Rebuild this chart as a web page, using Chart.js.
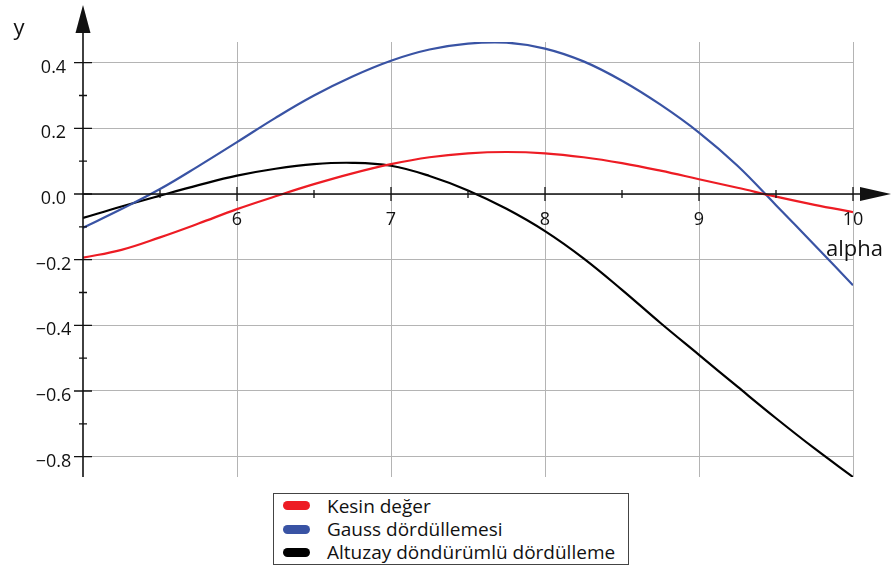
<!DOCTYPE html>
<html lang="tr">
<head>
    <meta charset="UTF-8">
    <title>Kesin değer / Gauss / Altuzay</title>
    <script src="https://cdn.jsdelivr.net/npm/chart.js"></script>
    <style>
        body { margin: 0; background: #fff; font-family: "Open Sans", sans-serif; }
        #wrap { position: relative; width: 893px; height: 572px; }
        #legend {
            position: absolute; left: 273px; top: 493px; width: 354px; height: 70px;
            border: 1px solid #444; background: #fff;
        }
        .row { height: 23.4px; display: flex; align-items: center; font-size: 19px; color: #111; }
        .sw { width: 27px; height: 9px; border-radius: 5px; margin-left: 9px; margin-right: 17px; }
    </style>
</head>
<body>
<div id="wrap">
    <canvas id="chart" width="893" height="572"></canvas>
    <div id="legend"></div>
</div>
<script>
    const alphaVals = [5, 5.25, 5.5, 5.75, 6, 6.25, 6.5, 6.75, 7, 7.25, 7.5, 7.75, 8, 8.25, 8.5, 8.75, 9, 9.25, 9.5, 9.75, 10];
    const kesin = [-0.194, -0.170, -0.132, -0.090, -0.046, -0.007, 0.030, 0.063, 0.091, 0.112, 0.124, 0.128, 0.124, 0.112, 0.094, 0.071, 0.045, 0.019, -0.008, -0.033, -0.055];
    const gauss = [-0.103, -0.046, 0.015, 0.085, 0.158, 0.232, 0.300, 0.358, 0.406, 0.440, 0.458, 0.461, 0.443, 0.404, 0.345, 0.272, 0.187, 0.086, -0.034, -0.155, -0.278];
    const altuzay = [-0.073, -0.038, -0.005, 0.027, 0.056, 0.077, 0.091, 0.095, 0.086, 0.055, 0.011, -0.045, -0.113, -0.196, -0.292, -0.393, -0.490, -0.587, -0.683, -0.775, -0.862];

    const seriesNames = ['Kesin değer', 'Gauss dördüllemesi', 'Altuzay döndürümlü dördülleme'];
    const seriesColors = ['#ed1c24', '#3953a4', '#000000'];

    const xTicks = [6, 7, 8, 9, 10];
    const xMinor = [5.5, 6.5, 7.5, 8.5, 9.5];
    const yTicks = [-0.8, -0.6, -0.4, -0.2, 0, 0.2, 0.4];
    const yMinor = [-0.7, -0.5, -0.3, -0.1, 0.1, 0.3];

    function pts(ys) {
        return alphaVals.map((a, i) => ({ x: a, y: ys[i] }));
    }

    // axes with arrows, ticks and labels drawn in the Maple style
    const axesPlugin = {
        id: 'axes',
        afterDatasetsDraw(chart) {
            const ctx = chart.ctx;
            const xs = chart.scales.x, ys = chart.scales.y;
            const ca = chart.chartArea;
            const x0 = xs.getPixelForValue(5);
            const y0 = ys.getPixelForValue(0);
            ctx.save();
            ctx.strokeStyle = '#111';
            ctx.fillStyle = '#111';
            ctx.lineWidth = 1.6;

            // y axis
            ctx.beginPath();
            ctx.moveTo(x0, ca.bottom);
            ctx.lineTo(x0, 33);
            ctx.stroke();
            ctx.beginPath();
            ctx.moveTo(x0, 5);
            ctx.lineTo(x0 - 7.5, 33);
            ctx.lineTo(x0 + 7.5, 33);
            ctx.closePath();
            ctx.fill();

            // x axis
            ctx.beginPath();
            ctx.moveTo(x0, y0);
            ctx.lineTo(861, y0);
            ctx.stroke();
            ctx.beginPath();
            ctx.moveTo(891, y0);
            ctx.lineTo(860, y0 - 7);
            ctx.lineTo(860, y0 + 7);
            ctx.closePath();
            ctx.fill();

            ctx.lineWidth = 1.3;
            ctx.beginPath();
            xTicks.forEach(v => {
                const p = xs.getPixelForValue(v);
                ctx.moveTo(p, y0 - 7); ctx.lineTo(p, y0 + 7);
            });
            xMinor.forEach(v => {
                const p = xs.getPixelForValue(v);
                ctx.moveTo(p, y0 - 4); ctx.lineTo(p, y0 + 4);
            });
            yTicks.forEach(v => {
                const p = ys.getPixelForValue(v);
                ctx.moveTo(x0 - 9, p); ctx.lineTo(x0 + 9, p);
            });
            yMinor.forEach(v => {
                const p = ys.getPixelForValue(v);
                ctx.moveTo(x0 - 4, p); ctx.lineTo(x0 + 4, p);
            });
            ctx.stroke();

            ctx.font = '18px "Open Sans"';
            ctx.textAlign = 'center';
            ctx.textBaseline = 'alphabetic';
            xTicks.forEach(v => {
                ctx.fillText(String(v), xs.getPixelForValue(v), y0 + 31);
            });
            yTicks.forEach(v => {
                const s = v.toFixed(1).replace('-', '\u2212');
                ctx.fillText(s, 53.5, ys.getPixelForValue(v) + 10);
            });

            ctx.font = '22px "Open Sans"';
            ctx.fillText('y', 19, 35);
            ctx.textAlign = 'left';
            ctx.fillText('alpha', 826, 256);
            ctx.restore();
        }
    };

    new Chart(document.getElementById('chart'), {
        type: 'line',
        data: {
            datasets: [kesin, gauss, altuzay].map((ys, i) => ({
                label: seriesNames[i],
                data: pts(ys),
                borderColor: seriesColors[i],
                backgroundColor: seriesColors[i],
                borderWidth: 2.2,
                pointRadius: 0,
                tension: 0.4,
                fill: false
            }))
        },
        options: {
            responsive: false,
            animation: false,
            layout: { padding: { left: 83, right: 40, top: 42, bottom: 95 } },
            plugins: { legend: { display: false }, tooltip: { enabled: false } },
            scales: {
                x: {
                    type: 'linear', min: 5, max: 10,
                    afterBuildTicks: s => { s.ticks = xTicks.map(v => ({ value: v })); },
                    afterFit: s => { s.height = 0; },
                    ticks: { display: false },
                    border: { display: false },
                    grid: { color: '#b4b4b4', lineWidth: 1, drawTicks: false }
                },
                y: {
                    type: 'linear', min: -0.862, max: 0.463,
                    afterBuildTicks: s => { s.ticks = yTicks.map(v => ({ value: v })); },
                    afterFit: s => { s.width = 0; },
                    ticks: { display: false },
                    border: { display: false },
                    grid: { color: '#b4b4b4', lineWidth: 1, drawTicks: false }
                }
            }
        },
        plugins: [axesPlugin]
    });

    // legend box under the plot
    const legend = document.getElementById('legend');
    seriesNames.forEach((name, i) => {
        const row = document.createElement('div');
        row.className = 'row';
        const sw = document.createElement('span');
        sw.className = 'sw';
        sw.style.background = seriesColors[i];
        const t = document.createElement('span');
        t.textContent = name;
        row.appendChild(sw);
        row.appendChild(t);
        legend.appendChild(row);
    });
</script>
</body>
</html>
